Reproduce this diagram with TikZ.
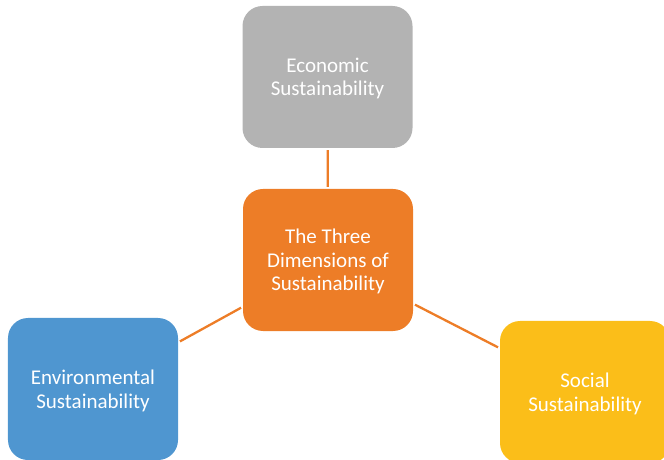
\documentclass[tikz,border=0pt]{standalone}
\usepackage{fontspec}
\setmainfont{Carlito}
\definecolor{ecogray}{HTML}{B3B3B3}
\definecolor{dimorange}{HTML}{ED7D27}
\definecolor{envblue}{HTML}{4F96D0}
\definecolor{socyellow}{HTML}{FBBE19}
\begin{document}
\begin{tikzpicture}[x=1bp,y=-1bp,
	dimbox/.style={rectangle,rounded corners=20bp,minimum width=170bp,minimum height=142bp,
		text=white,align=center,font=\fontsize{21bp}{23.5bp}\selectfont,inner sep=0pt,
		text depth=0pt},
	link/.style={draw=dimorange,line width=2.3bp,shorten <=2bp,shorten >=2bp}]
	\clip (0,0) rectangle (664,460);
	\node[dimbox,fill=ecogray] (eco) at (327.5,77) {Economic\\Sustainability};
	\node[dimbox,fill=dimorange] (dim) at (328,260) {The Three\\Dimensions of\\Sustainability};
	\node[dimbox,fill=envblue] (env) at (93,389) {Environmental\\Sustainability};
	\node[dimbox,fill=socyellow] (soc) at (585,392) {Social\\Sustainability};
	\draw[link] (dim)--(eco);
	\draw[link] (dim)--(env);
	\draw[link] (dim)--(soc);
\end{tikzpicture}
\end{document}
